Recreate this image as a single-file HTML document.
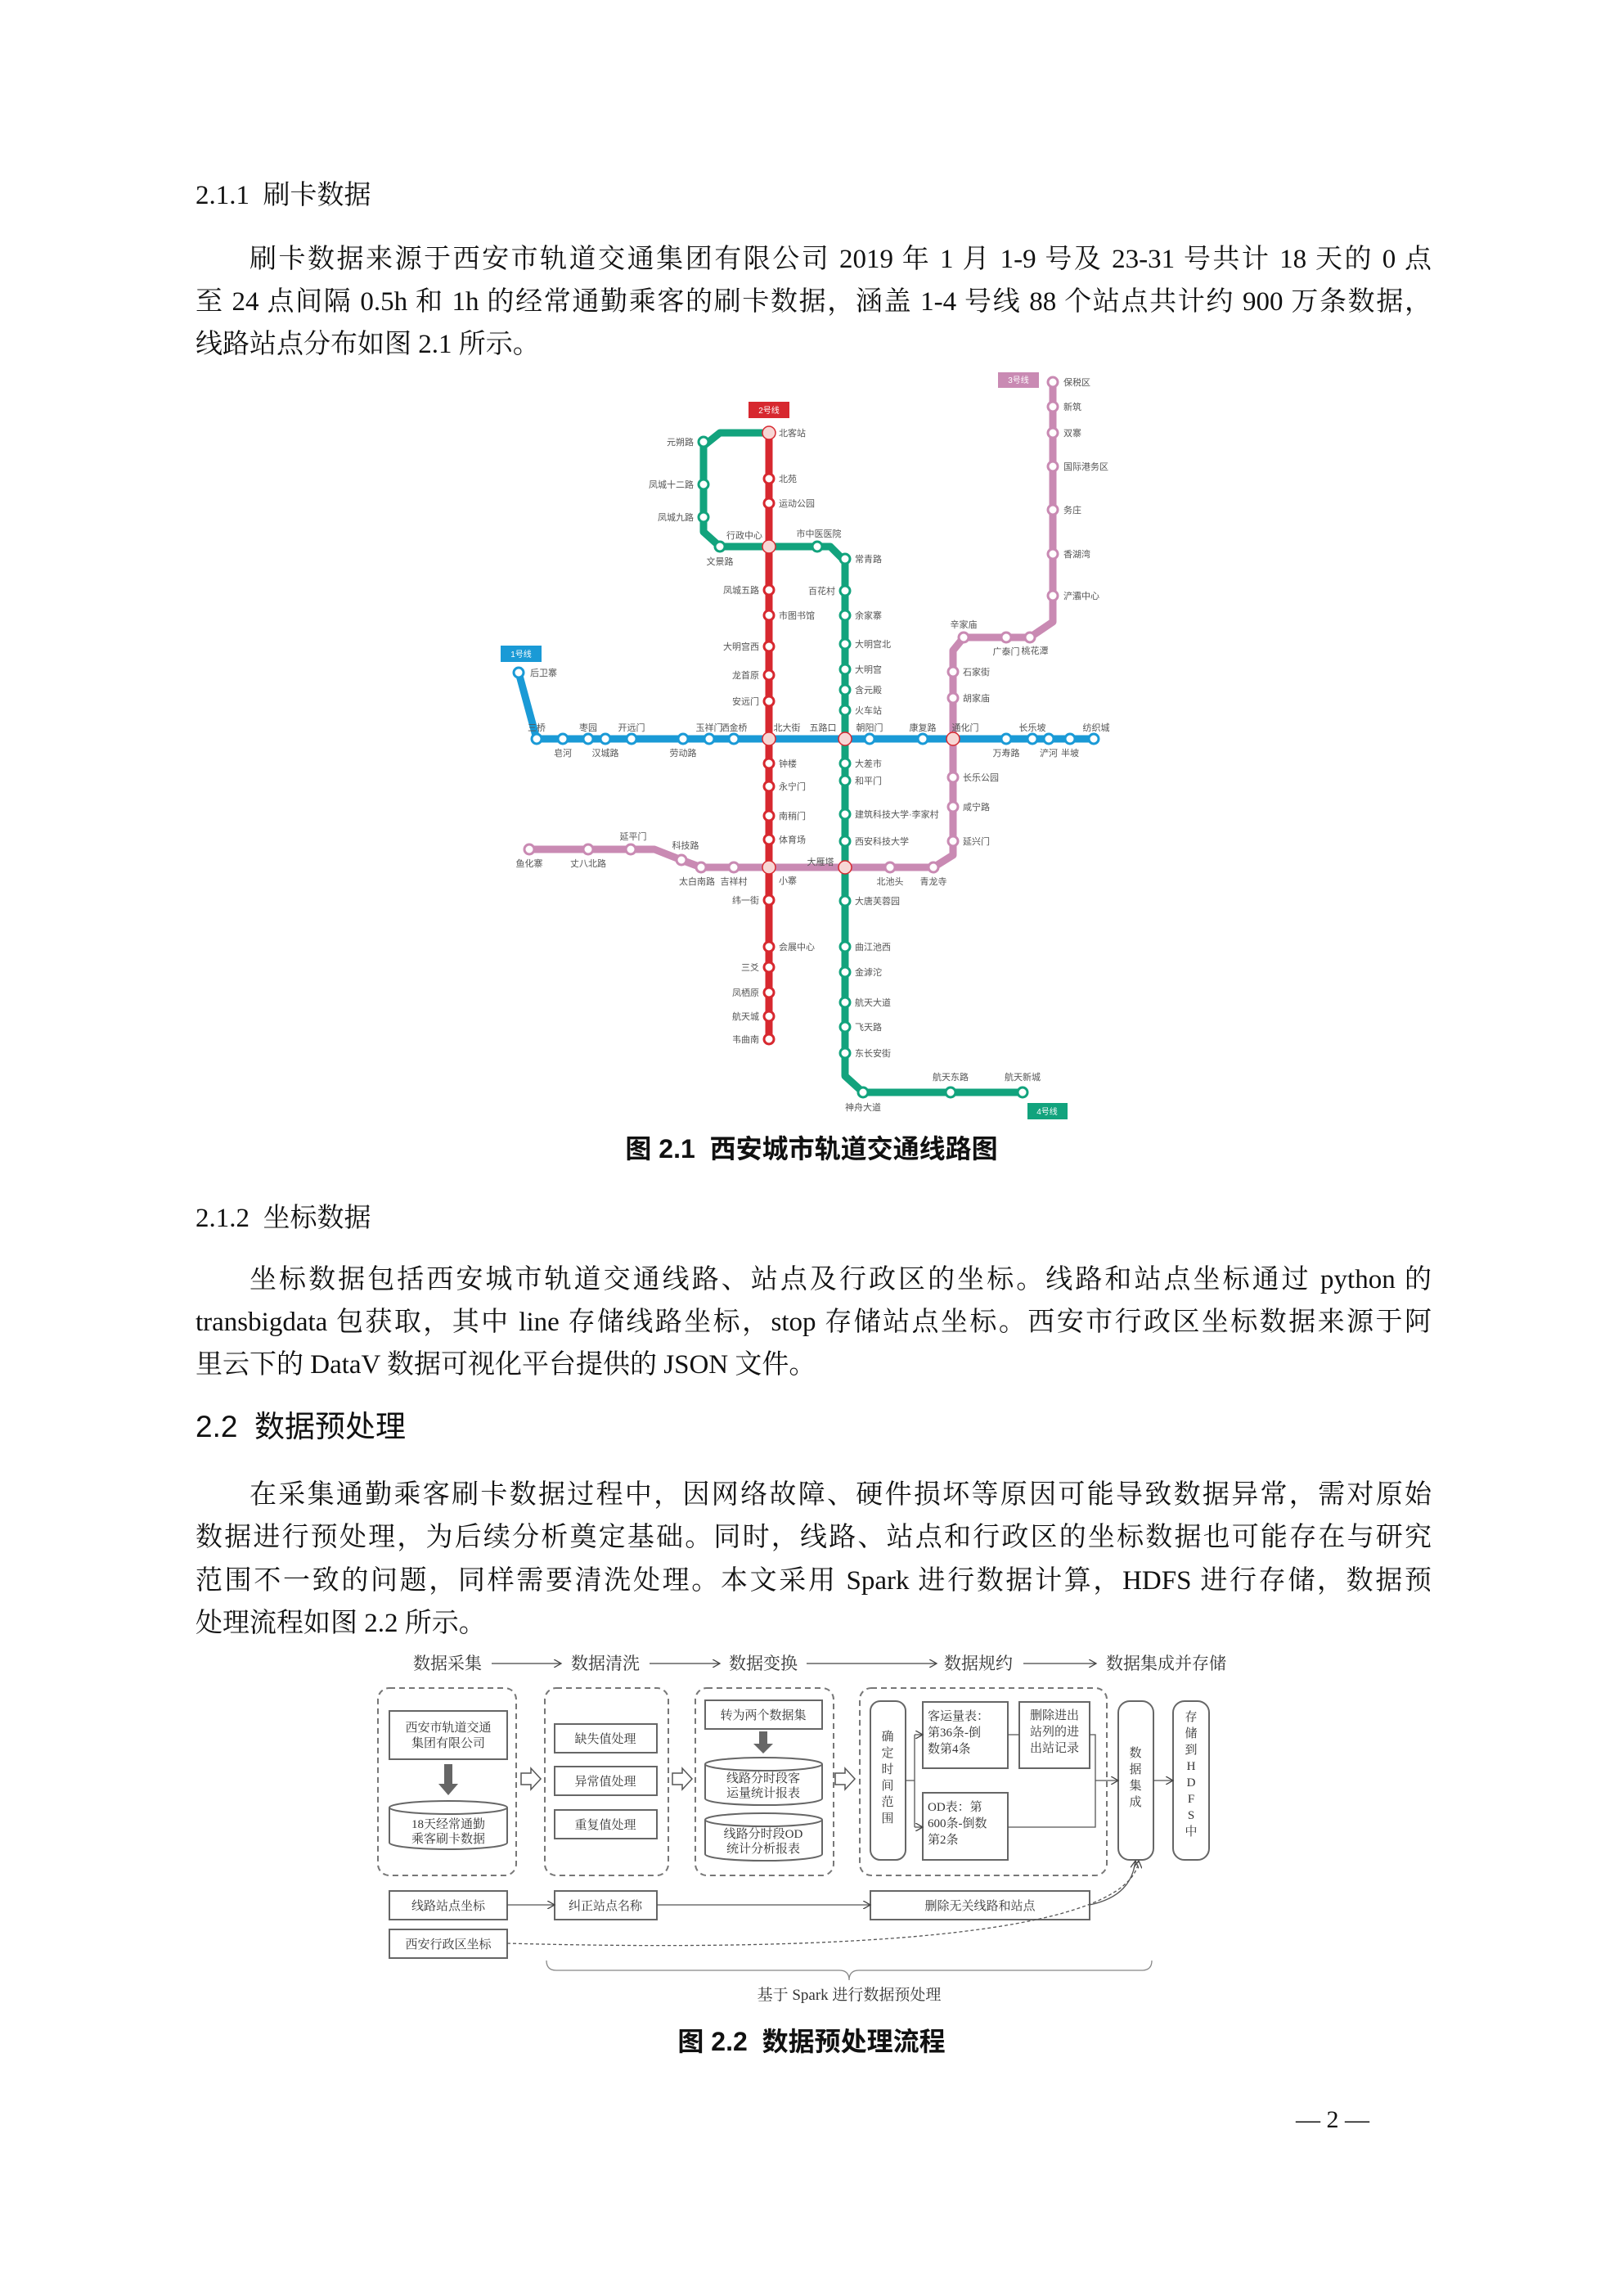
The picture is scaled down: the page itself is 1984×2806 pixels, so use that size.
<!DOCTYPE html>
<html><head><meta charset="utf-8"><style>
body{margin:0;background:#fff}
#pg{position:relative;width:1984px;height:2806px;overflow:hidden;background:#fff;font-family:"Liberation Serif","Noto Serif CJK SC",serif;color:#111}
.t{position:absolute;left:239px;width:1511px;font-size:33px;line-height:40px;white-space:nowrap}
.j{text-align:justify;text-align-last:justify;white-space:normal}
.h{font-family:"Liberation Sans","Noto Sans CJK SC",sans-serif}
svg{position:absolute;left:0;top:0}
</style></head><body><div id="pg">
<div class="t" style="top:219px">2.1.1&nbsp; 刷卡数据</div>
<div class="t j" style="top:297px;left:305px;width:1445px">刷卡数据来源于西安市轨道交通集团有限公司 2019 年 1 月 1-9 号及 23-31 号共计 18 天的 0 点</div>
<div class="t j" style="top:349px">至 24 点间隔 0.5h 和 1h 的经常通勤乘客的刷卡数据，涵盖 1-4 号线 88 个站点共计约 900 万条数据，</div>
<div class="t" style="top:401px">线路站点分布如图 2.1 所示。</div>
<div class="t h" style="top:1384px;left:0;width:1984px;text-align:center;font-size:32px;font-weight:bold">图 2.1&nbsp; 西安城市轨道交通线路图</div>
<div class="t" style="top:1469px">2.1.2&nbsp; 坐标数据</div>
<div class="t j" style="top:1544px;left:305px;width:1445px">坐标数据包括西安城市轨道交通线路、站点及行政区的坐标。线路和站点坐标通过 python 的</div>
<div class="t j" style="top:1596px">transbigdata 包获取，其中 line 存储线路坐标，stop 存储站点坐标。西安市行政区坐标数据来源于阿</div>
<div class="t" style="top:1648px">里云下的 DataV 数据可视化平台提供的 JSON 文件。</div>
<div class="t h" style="top:1722px;font-size:37px;line-height:44px">2.2&nbsp; 数据预处理</div>
<div class="t j" style="top:1807px;left:305px;width:1445px">在采集通勤乘客刷卡数据过程中，因网络故障、硬件损坏等原因可能导致数据异常，需对原始</div>
<div class="t j" style="top:1859px">数据进行预处理，为后续分析奠定基础。同时，线路、站点和行政区的坐标数据也可能存在与研究</div>
<div class="t j" style="top:1912px">范围不一致的问题，同样需要清洗处理。本文采用 Spark 进行数据计算，HDFS 进行存储，数据预</div>
<div class="t" style="top:1964px">处理流程如图 2.2 所示。</div>
<div class="t h" style="top:2475px;left:0;width:1984px;text-align:center;font-size:32px;font-weight:bold">图 2.2&nbsp; 数据预处理流程</div>
<div class="t" style="top:2571px;left:1584px;width:130px;font-size:30px">— 2 —</div>

<svg width="1984" height="2806" viewBox="0 0 1984 2806" font-family="Liberation Sans, Noto Sans CJK SC, sans-serif">
<g fill="none" stroke-width="9" stroke-linejoin="round">
<polyline stroke="#1a9ad6" points="634,822 656,903 1337,903"/>
<polyline stroke="#c98ab3" points="1287,467 1287,760 1259,779 1178,779 1165,795 1165,1045 1141,1060 857,1060 833,1051 800,1038 647,1038"/>
<polyline stroke="#12a37d" points="940,529 880,529 860,545 860,650 880,668 1015,668 1033,686 1033,1315 1055,1335 1250,1335"/>
<polyline stroke="#d7282f" points="940,529 940,1270"/>
</g>
<rect x="915" y="491" width="50" height="20" fill="#d7282f"/><text x="940" y="505" font-size="10" fill="#fff" text-anchor="middle">2号线</text>
<rect x="1220" y="455" width="50" height="19" fill="#c98ab3"/><text x="1245" y="468" font-size="10" fill="#fff" text-anchor="middle">3号线</text>
<rect x="612" y="789" width="50" height="20" fill="#1a9ad6"/><text x="637" y="803" font-size="10" fill="#fff" text-anchor="middle">1号线</text>
<rect x="1256" y="1348" width="49" height="20" fill="#12a37d"/><text x="1280" y="1362" font-size="10" fill="#fff" text-anchor="middle">4号线</text>
<g fill="#fff" stroke-width="3">
<g stroke="#1a9ad6"><circle cx="634" cy="822" r="6"/><circle cx="656" cy="903" r="6"/><circle cx="688" cy="903" r="6"/><circle cx="719" cy="903" r="6"/><circle cx="740" cy="903" r="6"/><circle cx="772" cy="903" r="6"/><circle cx="835" cy="903" r="6"/><circle cx="867" cy="903" r="6"/><circle cx="897" cy="903" r="6"/><circle cx="1063" cy="903" r="6"/><circle cx="1128" cy="903" r="6"/><circle cx="1230" cy="903" r="6"/><circle cx="1262" cy="903" r="6"/><circle cx="1282" cy="903" r="6"/><circle cx="1308" cy="903" r="6"/><circle cx="1337" cy="903" r="6"/></g>
<g stroke="#d7282f"><circle cx="940" cy="585" r="6"/><circle cx="940" cy="615" r="6"/><circle cx="940" cy="721" r="6"/><circle cx="940" cy="752" r="6"/><circle cx="940" cy="790" r="6"/><circle cx="940" cy="825" r="6"/><circle cx="940" cy="857" r="6"/><circle cx="940" cy="933" r="6"/><circle cx="940" cy="961" r="6"/><circle cx="940" cy="997" r="6"/><circle cx="940" cy="1026" r="6"/><circle cx="940" cy="1100" r="6"/><circle cx="940" cy="1157" r="6"/><circle cx="940" cy="1182" r="6"/><circle cx="940" cy="1213" r="6"/><circle cx="940" cy="1242" r="6"/><circle cx="940" cy="1270" r="6"/></g>
<g stroke="#12a37d"><circle cx="860" cy="540" r="6"/><circle cx="860" cy="592" r="6"/><circle cx="860" cy="632" r="6"/><circle cx="880" cy="668" r="6"/><circle cx="999" cy="668" r="6"/><circle cx="1033" cy="683" r="6"/><circle cx="1033" cy="722" r="6"/><circle cx="1033" cy="752" r="6"/><circle cx="1033" cy="787" r="6"/><circle cx="1033" cy="818" r="6"/><circle cx="1033" cy="843" r="6"/><circle cx="1033" cy="868" r="6"/><circle cx="1033" cy="933" r="6"/><circle cx="1033" cy="954" r="6"/><circle cx="1033" cy="995" r="6"/><circle cx="1033" cy="1028" r="6"/><circle cx="1033" cy="1101" r="6"/><circle cx="1033" cy="1157" r="6"/><circle cx="1033" cy="1188" r="6"/><circle cx="1033" cy="1225" r="6"/><circle cx="1033" cy="1255" r="6"/><circle cx="1033" cy="1287" r="6"/><circle cx="1055" cy="1335" r="6"/><circle cx="1162" cy="1335" r="6"/><circle cx="1250" cy="1335" r="6"/></g>
<g stroke="#c98ab3"><circle cx="1287" cy="467" r="6"/><circle cx="1287" cy="497" r="6"/><circle cx="1287" cy="529" r="6"/><circle cx="1287" cy="570" r="6"/><circle cx="1287" cy="623" r="6"/><circle cx="1287" cy="677" r="6"/><circle cx="1287" cy="728" r="6"/><circle cx="1259" cy="779" r="6"/><circle cx="1230" cy="779" r="6"/><circle cx="1178" cy="779" r="6"/><circle cx="1165" cy="821" r="6"/><circle cx="1165" cy="853" r="6"/><circle cx="1165" cy="950" r="6"/><circle cx="1165" cy="986" r="6"/><circle cx="1165" cy="1028" r="6"/><circle cx="1141" cy="1060" r="6"/><circle cx="1088" cy="1060" r="6"/><circle cx="897" cy="1060" r="6"/><circle cx="857" cy="1060" r="6"/><circle cx="833" cy="1051" r="6"/><circle cx="771" cy="1038" r="6"/><circle cx="719" cy="1038" r="6"/><circle cx="647" cy="1038" r="6"/></g>
<g fill="#f7d7d5" stroke="#d7282f" stroke-width="1.5"><circle cx="940" cy="529" r="8"/><circle cx="940" cy="668" r="8"/><circle cx="940" cy="903" r="8"/><circle cx="1033" cy="903" r="8"/><circle cx="1165" cy="903" r="8"/><circle cx="940" cy="1060" r="8"/><circle cx="1033" cy="1060" r="8"/></g>
</g>
<g font-size="11" fill="#555">
<g><text x="648" y="826">后卫寨</text><text x="656" y="893" text-anchor="middle">三桥</text><text x="688" y="924" text-anchor="middle">皂河</text><text x="719" y="893" text-anchor="middle">枣园</text><text x="740" y="924" text-anchor="middle">汉城路</text><text x="772" y="893" text-anchor="middle">开远门</text><text x="835" y="924" text-anchor="middle">劳动路</text><text x="867" y="893" text-anchor="middle">玉祥门</text><text x="897" y="893" text-anchor="middle">洒金桥</text><text x="962" y="893" text-anchor="middle">北大街</text><text x="1006" y="893" text-anchor="middle">五路口</text><text x="1063" y="893" text-anchor="middle">朝阳门</text><text x="1128" y="893" text-anchor="middle">康复路</text><text x="1180" y="893" text-anchor="middle">通化门</text><text x="1230" y="924" text-anchor="middle">万寿路</text><text x="1262" y="893" text-anchor="middle">长乐坡</text><text x="1282" y="924" text-anchor="middle">浐河</text><text x="1308" y="924" text-anchor="middle">半坡</text><text x="1340" y="893" text-anchor="middle">纺织城</text></g>
<g><text x="952" y="533">北客站</text><text x="952" y="589">北苑</text><text x="952" y="619">运动公园</text><text x="910" y="658" text-anchor="middle">行政中心</text><text x="928" y="725" text-anchor="end">凤城五路</text><text x="952" y="756">市图书馆</text><text x="928" y="794" text-anchor="end">大明宫西</text><text x="928" y="829" text-anchor="end">龙首原</text><text x="928" y="861" text-anchor="end">安远门</text><text x="952" y="937">钟楼</text><text x="952" y="965">永宁门</text><text x="952" y="1001">南稍门</text><text x="952" y="1030">体育场</text><text x="963" y="1080" text-anchor="middle">小寨</text><text x="928" y="1104" text-anchor="end">纬一街</text><text x="952" y="1161">会展中心</text><text x="928" y="1186" text-anchor="end">三爻</text><text x="928" y="1217" text-anchor="end">凤栖原</text><text x="928" y="1246" text-anchor="end">航天城</text><text x="928" y="1274" text-anchor="end">韦曲南</text></g>
<g><text x="848" y="544" text-anchor="end">元朔路</text><text x="848" y="596" text-anchor="end">凤城十二路</text><text x="848" y="636" text-anchor="end">凤城九路</text><text x="880" y="690" text-anchor="middle">文景路</text><text x="1001" y="656" text-anchor="middle">市中医医院</text><text x="1045" y="687">常青路</text><text x="1021" y="726" text-anchor="end">百花村</text><text x="1045" y="756">余家寨</text><text x="1045" y="791">大明宫北</text><text x="1045" y="822">大明宫</text><text x="1045" y="847">含元殿</text><text x="1045" y="872">火车站</text><text x="1045" y="937">大差市</text><text x="1045" y="958">和平门</text><text x="1045" y="999">建筑科技大学·李家村</text><text x="1045" y="1032">西安科技大学</text><text x="1003" y="1057" text-anchor="middle">大雁塔</text><text x="1045" y="1105">大唐芙蓉园</text><text x="1045" y="1161">曲江池西</text><text x="1045" y="1192">金滹沱</text><text x="1045" y="1229">航天大道</text><text x="1045" y="1259">飞天路</text><text x="1045" y="1291">东长安街</text><text x="1055" y="1357" text-anchor="middle">神舟大道</text><text x="1162" y="1320" text-anchor="middle">航天东路</text><text x="1250" y="1320" text-anchor="middle">航天新城</text></g>
<g><text x="1300" y="471">保税区</text><text x="1300" y="501">新筑</text><text x="1300" y="533">双寨</text><text x="1300" y="574">国际港务区</text><text x="1300" y="627">务庄</text><text x="1300" y="681">香湖湾</text><text x="1300" y="732">浐灞中心</text><text x="1265" y="799" text-anchor="middle">桃花潭</text><text x="1230" y="800" text-anchor="middle">广泰门</text><text x="1178" y="767" text-anchor="middle">辛家庙</text><text x="1177" y="825">石家街</text><text x="1177" y="857">胡家庙</text><text x="1177" y="954">长乐公园</text><text x="1177" y="990">咸宁路</text><text x="1177" y="1032">延兴门</text><text x="1141" y="1081" text-anchor="middle">青龙寺</text><text x="1088" y="1081" text-anchor="middle">北池头</text><text x="897" y="1081" text-anchor="middle">吉祥村</text><text x="852" y="1081" text-anchor="middle">太白南路</text><text x="838" y="1037" text-anchor="middle">科技路</text><text x="774" y="1026" text-anchor="middle">延平门</text><text x="719" y="1059" text-anchor="middle">丈八北路</text><text x="647" y="1059" text-anchor="middle">鱼化寨</text></g>
</g>

<defs><marker id="a" markerWidth="8" markerHeight="8" refX="7" refY="4" orient="auto"><path d="M0,0 L7,4 L0,8" fill="none" stroke="#444" stroke-width="1"/></marker></defs>
<g font-family="Liberation Serif, Noto Serif CJK SC, serif" fill="#333" transform="translate(0,-10)">
<g font-size="21"><text x="505" y="2050">数据采集</text><text x="698" y="2050">数据清洗</text><text x="891" y="2050">数据变换</text><text x="1154" y="2050">数据规约</text><text x="1352" y="2050">数据集成并存储</text></g>
<g stroke="#444" stroke-width="1.3" fill="none" marker-end="url(#a)"><line x1="601" y1="2043" x2="686" y2="2043"/><line x1="794" y1="2043" x2="880" y2="2043"/><line x1="986" y1="2043" x2="1145" y2="2043"/><line x1="1251" y1="2043" x2="1340" y2="2043"/></g>
<g fill="none" stroke="#777" stroke-width="2" stroke-dasharray="7,5"><rect x="462" y="2073" width="169" height="229" rx="14"/><rect x="666" y="2073" width="151" height="229" rx="14"/><rect x="850" y="2073" width="169" height="229" rx="14"/><rect x="1051" y="2073" width="302" height="229" rx="14"/></g>
<g fill="#fff" stroke="#666" stroke-width="2">
<rect x="476" y="2101" width="144" height="59"/>
<rect x="678" y="2117" width="125" height="35"/><rect x="678" y="2169" width="125" height="35"/><rect x="678" y="2222" width="125" height="35"/>
<rect x="862" y="2088" width="143" height="35"/>
<rect x="1064" y="2089" width="43" height="194" rx="12"/>
<rect x="1128" y="2090" width="104" height="81"/><rect x="1246" y="2090" width="86" height="81"/><rect x="1128" y="2201" width="104" height="82"/>
<rect x="1367" y="2089" width="43" height="194" rx="14"/><rect x="1434" y="2089" width="44" height="194" rx="14"/>
<rect x="476" y="2321" width="144" height="35"/><rect x="678" y="2321" width="125" height="35"/><rect x="1064" y="2321" width="268" height="35"/><rect x="476" y="2368" width="144" height="35"/>
<path d="M476,2219 A72,8 0 0 1 620,2219 V2262 A72,8 0 0 1 476,2262Z"/><path d="M476,2219 A72,8 0 0 0 620,2219"/>
<path d="M862,2166 A71,8 0 0 1 1005,2166 V2208 A71,8 0 0 1 862,2208Z"/><path d="M862,2166 A71,8 0 0 0 1005,2166"/>
<path d="M862,2234 A71,8 0 0 1 1005,2234 V2276 A71,8 0 0 1 862,2276Z"/><path d="M862,2234 A71,8 0 0 0 1005,2234"/>
</g>
<g fill="#666"><path d="M543,2166 h10 v24 h7 l-12,14 l-12,-14 h7z"/><path d="M928,2126 h10 v15 h7 l-12,12 l-12,-12 h7z"/></g>
<g fill="#fff" stroke="#555" stroke-width="1.5"><path d="M637,2177 h12 v-6 l12,13 l-12,13 v-6 h-12z"/><path d="M822,2177 h12 v-6 l12,13 l-12,13 v-6 h-12z"/><path d="M1021,2177 h12 v-6 l12,13 l-12,13 v-6 h-12z"/></g>
<g fill="none" stroke="#555" stroke-width="1.3"><path d="M1107,2186 H1118 M1118,2130 V2243"/><line x1="1118" y1="2130" x2="1128" y2="2130" marker-end="url(#a)"/><line x1="1118" y1="2243" x2="1128" y2="2243" marker-end="url(#a)"/><path d="M1232,2130 H1246 M1332,2130 H1339 V2243 H1232"/><line x1="1339" y1="2186" x2="1367" y2="2186" marker-end="url(#a)"/><line x1="1410" y1="2186" x2="1434" y2="2186" marker-end="url(#a)"/>
<line x1="620" y1="2338" x2="678" y2="2338" marker-end="url(#a)"/><line x1="803" y1="2338" x2="1064" y2="2338" marker-end="url(#a)"/>
<path d="M1332,2338 C1370,2330 1385,2310 1388,2284" marker-end="url(#a)"/>
<path d="M620,2385 C1000,2395 1380,2380 1392,2284" stroke-dasharray="4,3" marker-end="url(#a)"/>
<path d="M668,2406 q0,12 12,12 H1026 q12,0 12,12 q0,-12 12,-12 H1396 q12,0 12,-12" stroke="#888"/></g>
<g font-size="15" text-anchor="middle"><text x="548" y="2126">西安市轨道交通</text><text x="548" y="2145">集团有限公司</text><text x="548" y="2244">18天经常通勤</text><text x="548" y="2262">乘客刷卡数据</text>
<text x="740" y="2140">缺失值处理</text><text x="740" y="2192">异常值处理</text><text x="740" y="2245">重复值处理</text><text x="933" y="2111">转为两个数据集</text>
<text x="933" y="2188">线路分时段客</text><text x="933" y="2206">运量统计报表</text><text x="933" y="2256">线路分时段OD</text><text x="933" y="2274">统计分析报表</text>
<text x="1289" y="2111">删除进出</text><text x="1289" y="2131">站列的进</text><text x="1289" y="2151">出站记录</text>
<text x="548" y="2344">线路站点坐标</text><text x="740" y="2344">纠正站点名称</text><text x="1198" y="2344">删除无关线路和站点</text><text x="548" y="2391">西安行政区坐标</text>
<text x="1038" y="2454" font-size="19">基于 Spark 进行数据预处理</text></g>
<g font-size="15"><text x="1134" y="2112">客运量表：</text><text x="1134" y="2132">第36条-倒</text><text x="1134" y="2152">数第4条</text><text x="1134" y="2223">OD表：第</text><text x="1134" y="2243">600条-倒数</text><text x="1134" y="2263">第2条</text></g>
<g font-size="15" text-anchor="middle"><text x="1085" y="2137">确</text><text x="1085" y="2157">定</text><text x="1085" y="2177">时</text><text x="1085" y="2197">间</text><text x="1085" y="2217">范</text><text x="1085" y="2237">围</text>
<text x="1388" y="2157">数</text><text x="1388" y="2177">据</text><text x="1388" y="2197">集</text><text x="1388" y="2217">成</text>
<text x="1456" y="2113">存</text><text x="1456" y="2133">储</text><text x="1456" y="2153">到</text><text x="1456" y="2173">H</text><text x="1456" y="2193">D</text><text x="1456" y="2213">F</text><text x="1456" y="2233">S</text><text x="1456" y="2253">中</text></g>
</g>
</svg>
</div></body></html>
